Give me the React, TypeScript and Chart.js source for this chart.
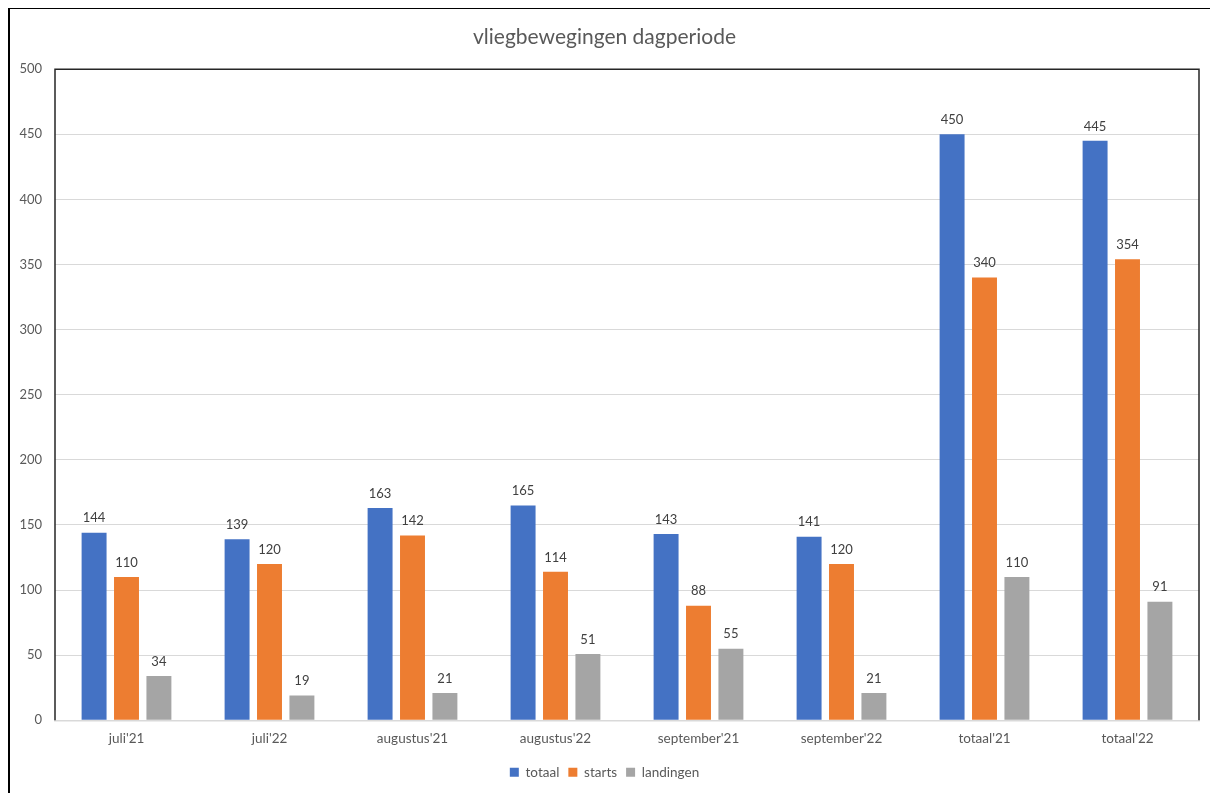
import React, { useEffect, useRef } from "react";
import { Chart, registerables } from "chart.js";

Chart.register(...registerables);

const categories = ["juli'21", "juli'22", "augustus'21", "augustus'22", "september'21", "september'22", "totaal'21", "totaal'22"];
const totaal = [144, 139, 163, 165, 143, 141, 450, 445];
const starts = [110, 120, 142, 114, 88, 120, 340, 354];
const landingen = [34, 19, 21, 51, 55, 21, 110, 91];
const yTicks = [0, 50, 100, 150, 200, 250, 300, 350, 400, 450, 500];

const FONT = "Lato, 'Open Sans', sans-serif";

const labelPlugin = {
  id: "barLabels",
  afterDatasetsDraw(chart: any) {
    const ctx = chart.ctx;
    ctx.save();
    ctx.font = `13px ${FONT}`;
    ctx.fillStyle = "#404040";
    ctx.textAlign = "center";
    ctx.textBaseline = "bottom";
    chart.data.datasets.forEach((ds: any, i: number) => {
      const meta = chart.getDatasetMeta(i);
      meta.data.forEach((bar: any, j: number) => {
        ctx.fillText(String(ds.data[j]), bar.x, bar.y - 8);
      });
    });
    ctx.restore();
  },
};

const framePlugin = {
  id: "frame",
  afterDraw(chart: any) {
    const { ctx, chartArea } = chart;
    ctx.save();
    ctx.strokeStyle = "#262626";
    ctx.lineWidth = 1.5;
    ctx.beginPath();
    ctx.moveTo(chartArea.left, chartArea.bottom);
    ctx.lineTo(chartArea.left, chartArea.top);
    ctx.lineTo(chartArea.right, chartArea.top);
    ctx.lineTo(chartArea.right, chartArea.bottom);
    ctx.stroke();
    ctx.restore();
  },
};

export default function App() {
  const ref = useRef<HTMLCanvasElement>(null);
  useEffect(() => {
    const chart = new Chart(ref.current!, {
      type: "bar",
      data: {
        labels: categories,
        datasets: [
          { label: "totaal", data: totaal, backgroundColor: "#4472C4" },
          { label: "starts", data: starts, backgroundColor: "#ED7D31" },
          { label: "landingen", data: landingen, backgroundColor: "#A5A5A5" },
        ],
      },
      options: {
        responsive: false,
        animation: false,
        devicePixelRatio: 1,
        layout: { padding: { left: 0, right: 19, top: 0, bottom: 4 } },
        datasets: { bar: { categoryPercentage: 0.68, barPercentage: 0.77 } } as any,
        plugins: {
          title: {
            display: true,
            text: "vliegbewegingen dagperiode",
            color: "#595959",
            font: { family: FONT, size: 21, weight: "normal" },
            padding: { top: 16, bottom: 19 },
          },
          legend: {
            position: "bottom",
            labels: {
              color: "#595959",
              font: { family: FONT, size: 13.5 },
              boxWidth: 9,
              boxHeight: 9,
              padding: 9,
            },
          },
          tooltip: { enabled: false },
        },
        scales: {
          x: {
            grid: { display: false, drawTicks: false },
            border: { display: true, color: "#D9D9D9", width: 1.5 },
            ticks: { color: "#595959", font: { family: FONT, size: 13.5 }, padding: 10 },
          },
          y: {
            min: 0,
            max: 500,
            afterFit: (s: any) => { s.width = 45; },
            afterBuildTicks: (s: any) => { s.ticks = yTicks.map((v) => ({ value: v })); },
            grid: { color: "#D9D9D9", drawTicks: false, lineWidth: 1 },
            border: { display: false },
            ticks: { color: "#595959", font: { family: FONT, size: 13 }, padding: 13 },
          },
        },
      },
      plugins: [labelPlugin, framePlugin],
    } as any);
    return () => chart.destroy();
  }, []);
  return (
    <div style={{ borderLeft: "2px solid #000", borderTop: "2px solid #000", width: 1210, height: 786, marginTop: -1, boxSizing: "border-box" }}>
      <canvas ref={ref} width={1208} height={784} style={{ display: "block" }} />
    </div>
  );
}
